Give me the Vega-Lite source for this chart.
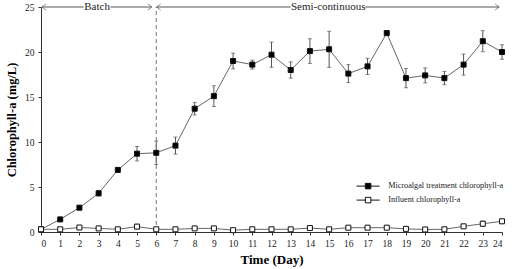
{
  "$schema": "https://vega.github.io/schema/vega-lite/v6.json",
  "autosize": {"type": "none"},
  "width": 461,
  "height": 225,
  "padding": {"left": 41, "top": 7, "right": 11, "bottom": 37},
  "background": "white",
  "config": {
    "view": {"stroke": null},
    "font": "Liberation Serif",
    "axis": {
      "grid": false,
      "domainColor": "#333",
      "tickColor": "#333",
      "tickSize": 3,
      "labelColor": "#222",
      "labelFont": "Liberation Serif",
      "labelFontSize": 9.5,
      "labelOverlap": false,
      "titleFont": "Liberation Serif",
      "titleColor": "#000",
      "titleFontWeight": "bold"
    }
  },
  "datasets": {
    "chl": [
      {"day": 0, "series": "Microalgal treatment chlorophyll-a", "value": 0.3, "err": 0.15},
      {"day": 1, "series": "Microalgal treatment chlorophyll-a", "value": 1.4, "err": 0.1},
      {"day": 2, "series": "Microalgal treatment chlorophyll-a", "value": 2.7, "err": 0.2},
      {"day": 3, "series": "Microalgal treatment chlorophyll-a", "value": 4.3, "err": 0.3},
      {"day": 4, "series": "Microalgal treatment chlorophyll-a", "value": 6.9, "err": 0.2},
      {"day": 5, "series": "Microalgal treatment chlorophyll-a", "value": 8.7, "err": 0.8},
      {"day": 6, "series": "Microalgal treatment chlorophyll-a", "value": 8.8, "err": 1.3},
      {"day": 7, "series": "Microalgal treatment chlorophyll-a", "value": 9.6, "err": 0.95},
      {"day": 8, "series": "Microalgal treatment chlorophyll-a", "value": 13.7, "err": 0.7},
      {"day": 9, "series": "Microalgal treatment chlorophyll-a", "value": 15.1, "err": 1.15},
      {"day": 10, "series": "Microalgal treatment chlorophyll-a", "value": 19.0, "err": 0.87},
      {"day": 11, "series": "Microalgal treatment chlorophyll-a", "value": 18.6, "err": 0.5},
      {"day": 12, "series": "Microalgal treatment chlorophyll-a", "value": 19.7, "err": 1.4},
      {"day": 13, "series": "Microalgal treatment chlorophyll-a", "value": 18.0, "err": 0.9},
      {"day": 14, "series": "Microalgal treatment chlorophyll-a", "value": 20.1, "err": 1.37},
      {"day": 15, "series": "Microalgal treatment chlorophyll-a", "value": 20.3, "err": 2.0},
      {"day": 16, "series": "Microalgal treatment chlorophyll-a", "value": 17.6, "err": 1.0},
      {"day": 17, "series": "Microalgal treatment chlorophyll-a", "value": 18.4, "err": 0.9},
      {"day": 18, "series": "Microalgal treatment chlorophyll-a", "value": 22.1, "err": 0.2},
      {"day": 19, "series": "Microalgal treatment chlorophyll-a", "value": 17.1, "err": 1.07},
      {"day": 20, "series": "Microalgal treatment chlorophyll-a", "value": 17.4, "err": 0.83},
      {"day": 21, "series": "Microalgal treatment chlorophyll-a", "value": 17.1, "err": 0.74},
      {"day": 22, "series": "Microalgal treatment chlorophyll-a", "value": 18.6, "err": 1.17},
      {"day": 23, "series": "Microalgal treatment chlorophyll-a", "value": 21.2, "err": 1.17},
      {"day": 24, "series": "Microalgal treatment chlorophyll-a", "value": 20.0, "err": 0.8},
      {"day": 0, "series": "Influent chlorophyll-a", "value": 0.3, "err": 0.1},
      {"day": 1, "series": "Influent chlorophyll-a", "value": 0.3, "err": 0.05},
      {"day": 2, "series": "Influent chlorophyll-a", "value": 0.5, "err": 0.2},
      {"day": 3, "series": "Influent chlorophyll-a", "value": 0.4, "err": 0.1},
      {"day": 4, "series": "Influent chlorophyll-a", "value": 0.3, "err": 0.15},
      {"day": 5, "series": "Influent chlorophyll-a", "value": 0.6, "err": 0.25},
      {"day": 6, "series": "Influent chlorophyll-a", "value": 0.3, "err": 0.1},
      {"day": 7, "series": "Influent chlorophyll-a", "value": 0.3, "err": 0.1},
      {"day": 8, "series": "Influent chlorophyll-a", "value": 0.4, "err": 0.05},
      {"day": 9, "series": "Influent chlorophyll-a", "value": 0.4, "err": 0.15},
      {"day": 10, "series": "Influent chlorophyll-a", "value": 0.2, "err": 0.1},
      {"day": 11, "series": "Influent chlorophyll-a", "value": 0.3, "err": 0.05},
      {"day": 12, "series": "Influent chlorophyll-a", "value": 0.3, "err": 0.05},
      {"day": 13, "series": "Influent chlorophyll-a", "value": 0.3, "err": 0.15},
      {"day": 14, "series": "Influent chlorophyll-a", "value": 0.44, "err": 0.2},
      {"day": 15, "series": "Influent chlorophyll-a", "value": 0.3, "err": 0.05},
      {"day": 16, "series": "Influent chlorophyll-a", "value": 0.48, "err": 0.05},
      {"day": 17, "series": "Influent chlorophyll-a", "value": 0.48, "err": 0.05},
      {"day": 18, "series": "Influent chlorophyll-a", "value": 0.48, "err": 0.05},
      {"day": 19, "series": "Influent chlorophyll-a", "value": 0.35, "err": 0.05},
      {"day": 20, "series": "Influent chlorophyll-a", "value": 0.28, "err": 0.1},
      {"day": 21, "series": "Influent chlorophyll-a", "value": 0.3, "err": 0.15},
      {"day": 22, "series": "Influent chlorophyll-a", "value": 0.63, "err": 0.05},
      {"day": 23, "series": "Influent chlorophyll-a", "value": 0.92, "err": 0.3},
      {"day": 24, "series": "Influent chlorophyll-a", "value": 1.19, "err": 0.25}
    ],
    "phases": [
      {"day": 0.05, "day2": 2.22},
      {"day": 3.62, "day2": 5.77},
      {"day": 6.02, "day2": 13.0},
      {"day": 16.88, "day2": 23.85}
    ],
    "labels": [
      {"day": 2.92, "text": "Batch"},
      {"day": 14.95, "text": "Semi-continuous"}
    ],
    "heads": [
      {"day": 0.05, "dir": "left"},
      {"day": 5.77, "dir": "right"},
      {"day": 6.02, "dir": "left"},
      {"day": 23.85, "dir": "right"}
    ]
  },
  "encoding": {
    "x": {
      "field": "day",
      "type": "quantitative",
      "scale": {"domain": [0, 24], "nice": false},
      "axis": {"values": [0,1,2,3,4,5,6,7,8,9,10,11,12,13,14,15,16,17,18,19,20,21,22,23,24], "title": "Time (Day)", "titleFontSize": 13, "titlePadding": 6, "labelPadding": 3}
    }
  },
  "layer": [
    {
      "data": {"name": "chl"},
      "mark": {"type": "errorbar", "ticks": {"size": 4, "color": "#555"}, "rule": {"color": "#555"}, "thickness": 1},
      "encoding": {
        "y": {
          "field": "value",
          "type": "quantitative",
          "scale": {"domain": [0, 25], "nice": false},
          "axis": {"values": [0, 5, 10, 15, 20, 25], "title": "Chlorophyll-a (mg/L)", "titleFontSize": 12.5, "titlePadding": 6, "labelPadding": 4}
        },
        "yError": {"field": "err"}
      }
    },
    {
      "data": {"values": [{"day": 6}]},
      "mark": {"type": "rule", "color": "#777", "strokeWidth": 1, "strokeDash": [4, 3]},
      "encoding": {
        "y": {"datum": 0},
        "y2": {"datum": 25}
      }
    },
    {
      "data": {"name": "phases"},
      "mark": {"type": "rule", "color": "#555", "strokeWidth": 1},
      "encoding": {
        "x2": {"field": "day2"},
        "y": {"datum": 25}
      }
    },
    {
      "data": {"name": "heads"},
      "mark": {"type": "point", "filled": false, "stroke": "#555", "strokeWidth": 1, "size": 16},
      "encoding": {
        "y": {"datum": 25},
        "shape": {
          "field": "dir",
          "type": "nominal",
          "scale": {"domain": ["left", "right"], "range": ["M2,-1.5L0,0L2,1.5", "M-2,-1.5L0,0L-2,1.5"]},
          "legend": null
        }
      }
    },
    {
      "data": {"name": "labels"},
      "mark": {"type": "text", "font": "Liberation Serif", "fontSize": 11, "color": "#222", "baseline": "middle", "align": "center"},
      "encoding": {
        "y": {"datum": 25},
        "text": {"field": "text"}
      }
    },
    {
      "data": {"name": "chl"},
      "mark": {"type": "line", "color": "#666", "strokeWidth": 1},
      "encoding": {
        "y": {"field": "value", "type": "quantitative", "title": "Chlorophyll-a (mg/L)"},
        "detail": {"field": "series"}
      }
    },
    {
      "data": {"name": "chl"},
      "mark": {"type": "point", "shape": "square", "filled": true, "stroke": "#111", "strokeWidth": 1, "size": 25, "opacity": 1},
      "encoding": {
        "y": {"field": "value", "type": "quantitative", "title": "Chlorophyll-a (mg/L)"},
        "fill": {
          "field": "series",
          "type": "nominal",
          "scale": {"domain": ["Microalgal treatment chlorophyll-a", "Influent chlorophyll-a"], "range": ["#000", "#fff"]},
          "legend": {
            "title": null,
            "orient": "none",
            "legendX": 323,
            "legendY": 175,
            "symbolType": "M-4.6,0H-1.1M1.1,0H4.6M-1.1,-1.1H1.1V1.1H-1.1Z",
            "symbolSize": 25,
            "symbolStrokeColor": "#111",
            "symbolStrokeWidth": 1,
            "labelFont": "Liberation Serif",
            "labelFontSize": 8.2,
            "labelColor": "#222",
            "labelOffset": 16,
            "rowPadding": 4
          }
        }
      }
    }
  ]
}
